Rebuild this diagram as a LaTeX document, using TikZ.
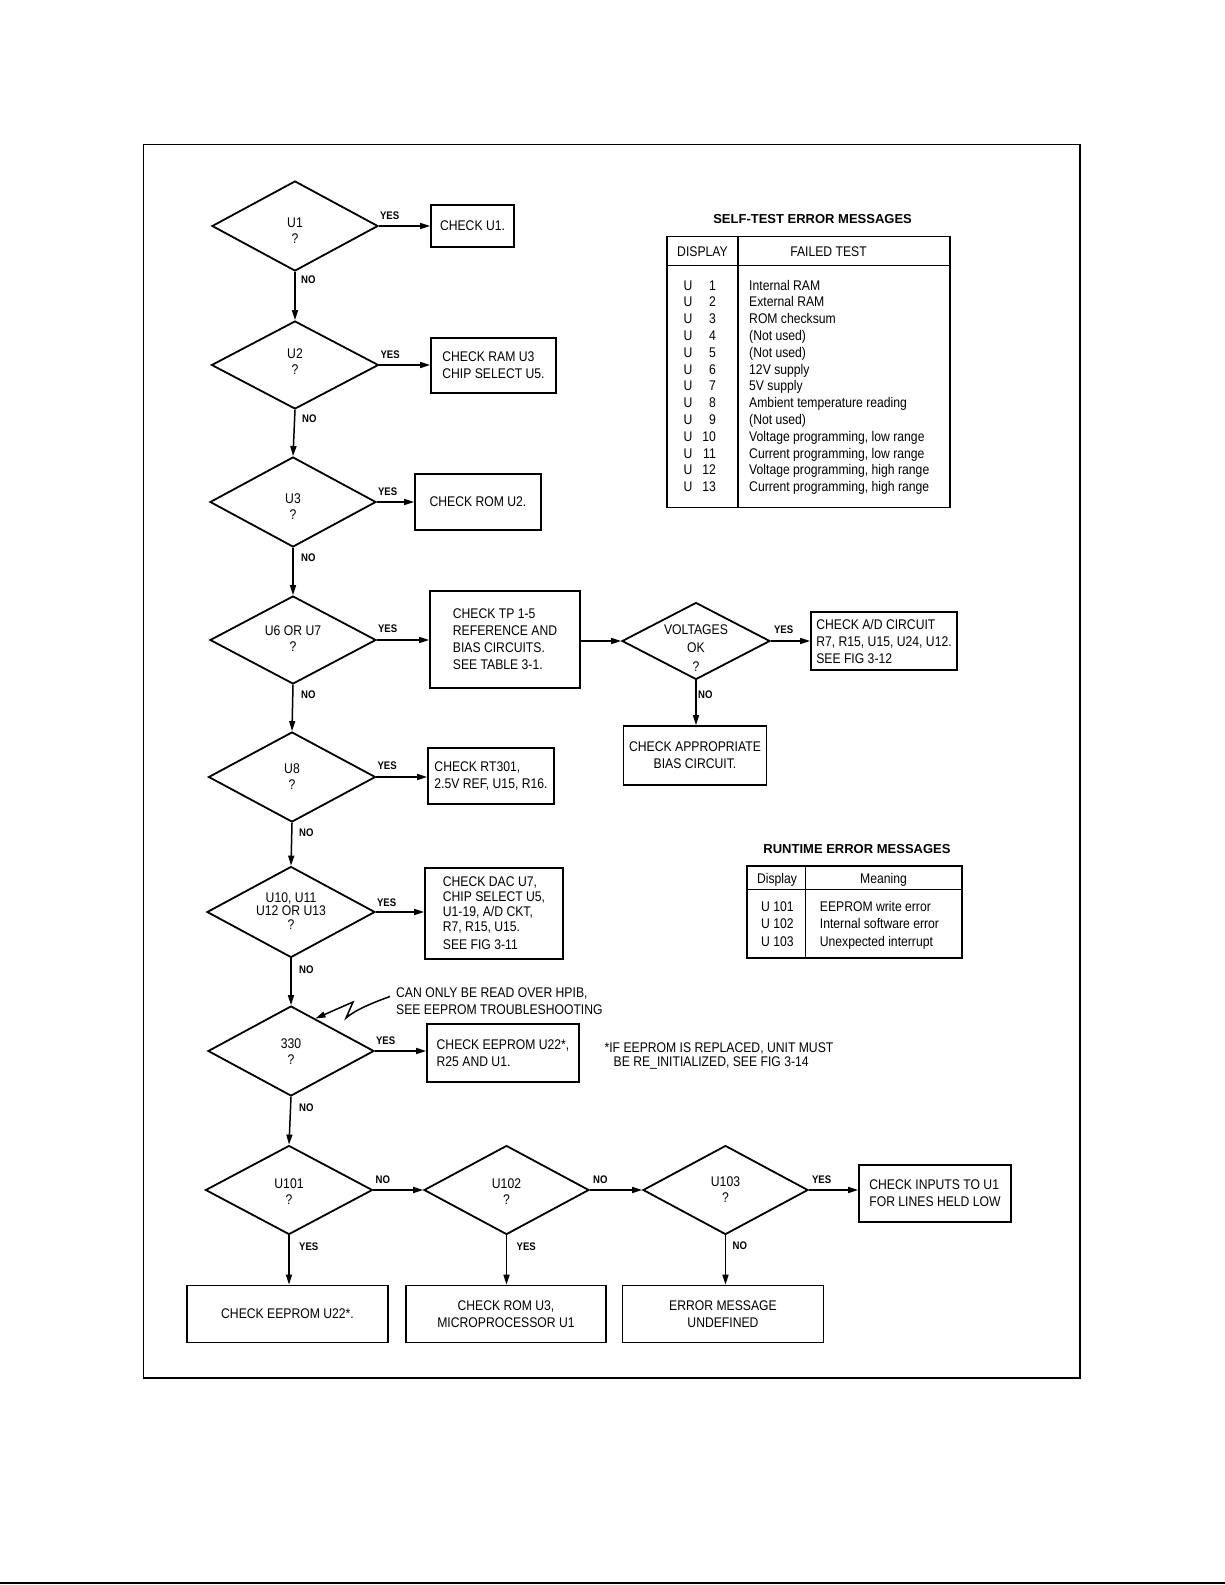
\documentclass[tikz,border=0pt]{standalone}
\usepackage{fontspec}
\setmainfont{Liberation Sans}[FakeStretch=0.87]
\newfontfamily\titlefont{Liberation Sans}
\usetikzlibrary{shapes.geometric,arrows.meta,calc}
\begin{document}
\begin{tikzpicture}[x=1pt,y=-1pt,
  txt/.style={font=\fontsize{14}{17}\selectfont,inner sep=0pt,align=left},
  ctxt/.style={font=\fontsize{14}{16}\selectfont,inner sep=0pt,align=center},
  lbl/.style={font=\fontsize{11}{12}\selectfont\bfseries,inner sep=0pt,anchor=west},
  dia/.style={draw,diamond,line width=1.8pt,inner sep=0pt},
  box/.style={draw,rectangle,line width=1.8pt,inner sep=0pt,font=\fontsize{14}{17}\selectfont,align=left},
  arr/.style={line width=1.5pt,-{Triangle[length=10pt,width=6pt]}},
  ttl/.style={font=\titlefont\bfseries\fontsize{13}{15}\selectfont,inner sep=0pt},
  tline/.style={line width=1.8pt}
]
\useasboundingbox (0,0) rectangle (1225,1585);
% frame
\draw[line width=1.8pt] (143.5,144.5) rectangle (1080,1378);
\draw[line width=2pt] (0,1583) -- (1225,1583);

% diamonds
\node[dia,minimum width=166pt,minimum height=90pt] (d1) at (295,226) {};
\node[dia,minimum width=167pt,minimum height=88pt] (d2) at (295,365) {};
\node[dia,minimum width=166pt,minimum height=90pt] (d3) at (293,502) {};
\node[dia,minimum width=166pt,minimum height=88pt] (d4) at (293,640) {};
\node[dia,minimum width=167pt,minimum height=90pt] (d5) at (292,777) {};
\node[dia,minimum width=168pt,minimum height=91pt] (d6) at (291,912) {};
\node[dia,minimum width=166pt,minimum height=90pt] (d7) at (291,1051) {};
\node[dia,minimum width=167pt,minimum height=89pt] (d8) at (289,1190) {};
\node[dia,minimum width=165pt,minimum height=89pt] (d9) at (506.5,1190) {};
\node[dia,minimum width=165pt,minimum height=89pt] (d10) at (725.5,1190) {};
\node[dia,minimum width=148pt,minimum height=77pt] (dv) at (696,641) {};

% diamond texts
\node[ctxt] (t1) at ($(d1)+(0,5)$) {U1\\?};
\node[ctxt] (t2) at ($(d2)+(0,-3)$) {U2\\?};
\node[ctxt] (t3) at ($(d3)+(0,5)$) {U3\\?};
\node[ctxt] (t4) at ($(d4)+(0,-1)$) {U6 OR U7\\?};
\node[ctxt] (t5) at ($(d5)+(0,0)$) {U8\\?};
\node[ctxt,font=\fontsize{14}{13.5}\selectfont] (t6) at ($(d6)+(0,-1)$) {U10, U11\\U12 OR U13\\?};
\node[ctxt] (t7) at ($(d7)+(0,1)$) {330\\?};
\node[ctxt] (t8) at ($(d8)+(0,2)$) {U101\\?};
\node[ctxt] (t9) at ($(d9)+(0,1.5)$) {U102\\?};
\node[ctxt] (t10) at ($(d10)+(0,0)$) {U103\\?};
\node[ctxt,font=\fontsize{14}{18.5}\selectfont] (tv) at ($(dv)+(0,7)$) {VOLTAGES\\OK\\?};

% boxes
\node[box,minimum width=83pt,minimum height=42pt] (b1) at (472.5,226) {CHECK U1.};
\node[box,minimum width=125pt,minimum height=55pt] (b2) at (493.5,365.5) {CHECK RAM U3\\CHIP SELECT U5.};
\node[box,minimum width=126pt,minimum height=56pt] (b3) at (478,502) {CHECK ROM U2.};
\node[box,minimum width=150pt,minimum height=97pt] (b4) at (505,639.5) {CHECK TP 1-5\\REFERENCE AND\\BIAS CIRCUITS.\\SEE TABLE 3-1.};
\node[box,minimum width=146pt,minimum height=58pt] (b5) at (884,641) {CHECK A/D CIRCUIT\\R7, R15, U15, U24, U12.\\SEE FIG 3-12};
\node[box,minimum width=143pt,minimum height=59pt,align=center] (b6) at (695,755.5) {CHECK APPROPRIATE\\BIAS CIRCUIT.};
\node[box,minimum width=126pt,minimum height=56pt] (b7) at (491,776) {CHECK RT301,\\2.5V REF, U15, R16.};
\node[box,minimum width=138pt,minimum height=91pt,font=\fontsize{14}{15}\selectfont] (b8) at (494,913.5) {CHECK DAC U7,\\CHIP SELECT U5,\\U1-19, A/D CKT,\\R7, R15, U15.\\[3pt]SEE FIG 3-11};
\node[box,minimum width=152pt,minimum height=58pt] (b9) at (503,1053) {CHECK EEPROM U22*,\\R25 AND U1.};
\node[box,minimum width=152pt,minimum height=57pt] (b10) at (935,1193.5) {CHECK INPUTS TO U1\\FOR LINES HELD LOW};
\node[box,minimum width=201pt,minimum height=57pt,align=center] (b11) at (287.5,1314) {CHECK EEPROM U22*.};
\node[box,minimum width=200pt,minimum height=57pt,align=center] (b12) at (506,1314) {CHECK ROM U3,\\MICROPROCESSOR U1};
\node[box,minimum width=201pt,minimum height=57pt,align=center] (b13) at (723,1314) {ERROR MESSAGE\\UNDEFINED};

% connectors: main column
\draw[arr] (d1.south) -- (d2.north);
\draw[arr] (d2.south) -- (d3.north);
\draw[arr] (d3.south) -- (d4.north);
\draw[arr] (d4.south) -- (d5.north);
\draw[arr] (d5.south) -- (d6.north);
\draw[arr] (d6.south) -- (d7.north);
\draw[arr] (d7.south) -- (d8.north);
% yes branches
\draw[arr] (d1.east) -- (d1.east -| b1.west);
\draw[arr] (d2.east) -- (d2.east -| b2.west);
\draw[arr] (d3.east) -- (d3.east -| b3.west);
\draw[arr] (d4.east) -- (d4.east -| b4.west);
\draw[arr] (b4.east |- dv.west) -- (dv.west);
\draw[arr] (dv.east) -- (dv.east -| b5.west);
\draw[arr] (dv.south) -- (dv.south |- b6.north);
\draw[arr] (d5.east) -- (d5.east -| b7.west);
\draw[arr] (d6.east) -- (d6.east -| b8.west);
\draw[arr] (d7.east) -- (d7.east -| b9.west);
% bottom row
\draw[arr] (d8.east) -- (d9.west);
\draw[arr] (d9.east) -- (d10.west);
\draw[arr] (d10.east) -- (d10.east -| b10.west);
\draw[arr] (d8.south) -- (d8.south |- b11.north);
\draw[arr] (d9.south) -- (d9.south |- b12.north);
\draw[arr] (d10.south) -- (d10.south |- b13.north);

% labels
\node[lbl] (l1y) at ($(d1.east)+(1,-10)$) {YES};
\node[lbl] (l2y) at ($(d2.east)+(1,-10)$) {YES};
\node[lbl] (l3y) at ($(d3.east)+(1,-10)$) {YES};
\node[lbl] (l4y) at ($(d4.east)+(1,-11)$) {YES};
\node[lbl] (l5y) at ($(d5.east)+(1,-11)$) {YES};
\node[lbl] (l6y) at ($(d6.east)+(1,-9)$) {YES};
\node[lbl] (l7y) at ($(d7.east)+(1,-10)$) {YES};
\node[lbl] (lvy) at ($(dv.east)+(3,-11)$) {YES};
\node[lbl] (l10y) at ($(d10.east)+(3,-10)$) {YES};
\node[lbl] (l8n) at ($(d8.east)+(2,-10)$) {NO};
\node[lbl] (l9n) at ($(d9.east)+(3,-10)$) {NO};
\node[lbl] (l1n) at ($(d1.south)+(6,8)$) {NO};
\node[lbl] (l2n) at ($(d2.south)+(7,9)$) {NO};
\node[lbl] (l3n) at ($(d3.south)+(8,10)$) {NO};
\node[lbl] (l4n) at ($(d4.south)+(8,10)$) {NO};
\node[lbl] (l5n) at ($(d5.south)+(7,10)$) {NO};
\node[lbl] (l6n) at ($(d6.south)+(8,11)$) {NO};
\node[lbl] (l7n) at ($(d7.south)+(8,11)$) {NO};
\node[lbl] (lvn) at ($(dv.south)+(2,14)$) {NO};
\node[lbl] (l8y) at ($(d8.south)+(10,11)$) {YES};
\node[lbl] (l9y) at ($(d9.south)+(10,11)$) {YES};
\node[lbl] (l10n) at ($(d10.south)+(7,10)$) {NO};

% annotation
\node[txt,anchor=west] (an1) at (396,993.5) {CAN ONLY BE READ OVER HPIB,};
\node[txt,anchor=west] (an2) at (396,1009.7) {SEE EEPROM TROUBLESHOOTING};
\coordinate (sq0) at ($(an1.west)+(-6,3)$);
\draw[arr] (sq0) .. controls (372,1003) and (355,1010) .. (346,1018) -- (353,1002) -- (337,1009) -- (d7.53);

% footnote
\node[txt,anchor=west] (fn1) at (604.4,1048) {*IF EEPROM IS REPLACED, UNIT MUST};
\node[txt,anchor=west] (fn2) at (613.5,1063.3) {BE RE\_INITIALIZED, SEE FIG 3-14};

% self-test table
\node[ttl] (stt) at (812.6,219.3) {SELF-TEST ERROR MESSAGES};
\node[draw,tline,inner sep=0pt,minimum width=283pt,minimum height=271pt] (st) at (808.5,372) {};
\coordinate (sth) at (0,265.5);
\coordinate (stc) at (738,0);
\draw[tline] (st.west |- sth) -- (st.east |- sth);
\draw[tline] (stc |- st.north) -- (stc |- st.south);
\node[txt,anchor=base] (sh1) at (702.5,256) {DISPLAY};
\node[txt,anchor=base] (sh2) at (828.5,256) {FAILED TEST};
\foreach \n/\t [count=\i] in {1/{Internal RAM},2/{External RAM},3/{ROM checksum},4/{(Not used)},5/{(Not used)},6/{12V supply},7/{5V supply},8/{Ambient temperature reading},9/{(Not used)},10/{Voltage programming, low range},11/{Current programming, low range},12/{Voltage programming, high range},13/{Current programming, high range}}{
  \node[txt,anchor=base] (su\i) at (688,{290+16.8*(\i-1)}) {U};
  \node[txt,anchor=base east] (sn\i) at (716,{290+16.8*(\i-1)}) {\n};
  \node[txt,anchor=base west] (sd\i) at (749,{290+16.8*(\i-1)}) {\t};
}

% runtime table
\node[ttl] (rtt) at (857,849) {RUNTIME ERROR MESSAGES};
\node[draw,tline,inner sep=0pt,minimum width=215pt,minimum height=92pt] (rt) at (854.5,912) {};
\coordinate (rth) at (0,889.4);
\coordinate (rtc) at (805.5,0);
\draw[tline] (rt.west |- rth) -- (rt.east |- rth);
\draw[tline] (rtc |- rt.north) -- (rtc |- rt.south);
\node[txt,anchor=base] (rh1) at (777,883) {Display};
\node[txt,anchor=base] (rh2) at (883.5,883) {Meaning};
\node[txt,anchor=base west] (ru1) at (761,911.6) {U 101};
\node[txt,anchor=base west] (ru2) at (761,928.8) {U 102};
\node[txt,anchor=base west] (ru3) at (761,946) {U 103};
\node[txt,anchor=base west] (rd1) at (819.7,911.6) {EEPROM write error};
\node[txt,anchor=base west] (rd2) at (819.7,928.8) {Internal software error};
\node[txt,anchor=base west] (rd3) at (819.7,946) {Unexpected interrupt};
\end{tikzpicture}
\end{document}
